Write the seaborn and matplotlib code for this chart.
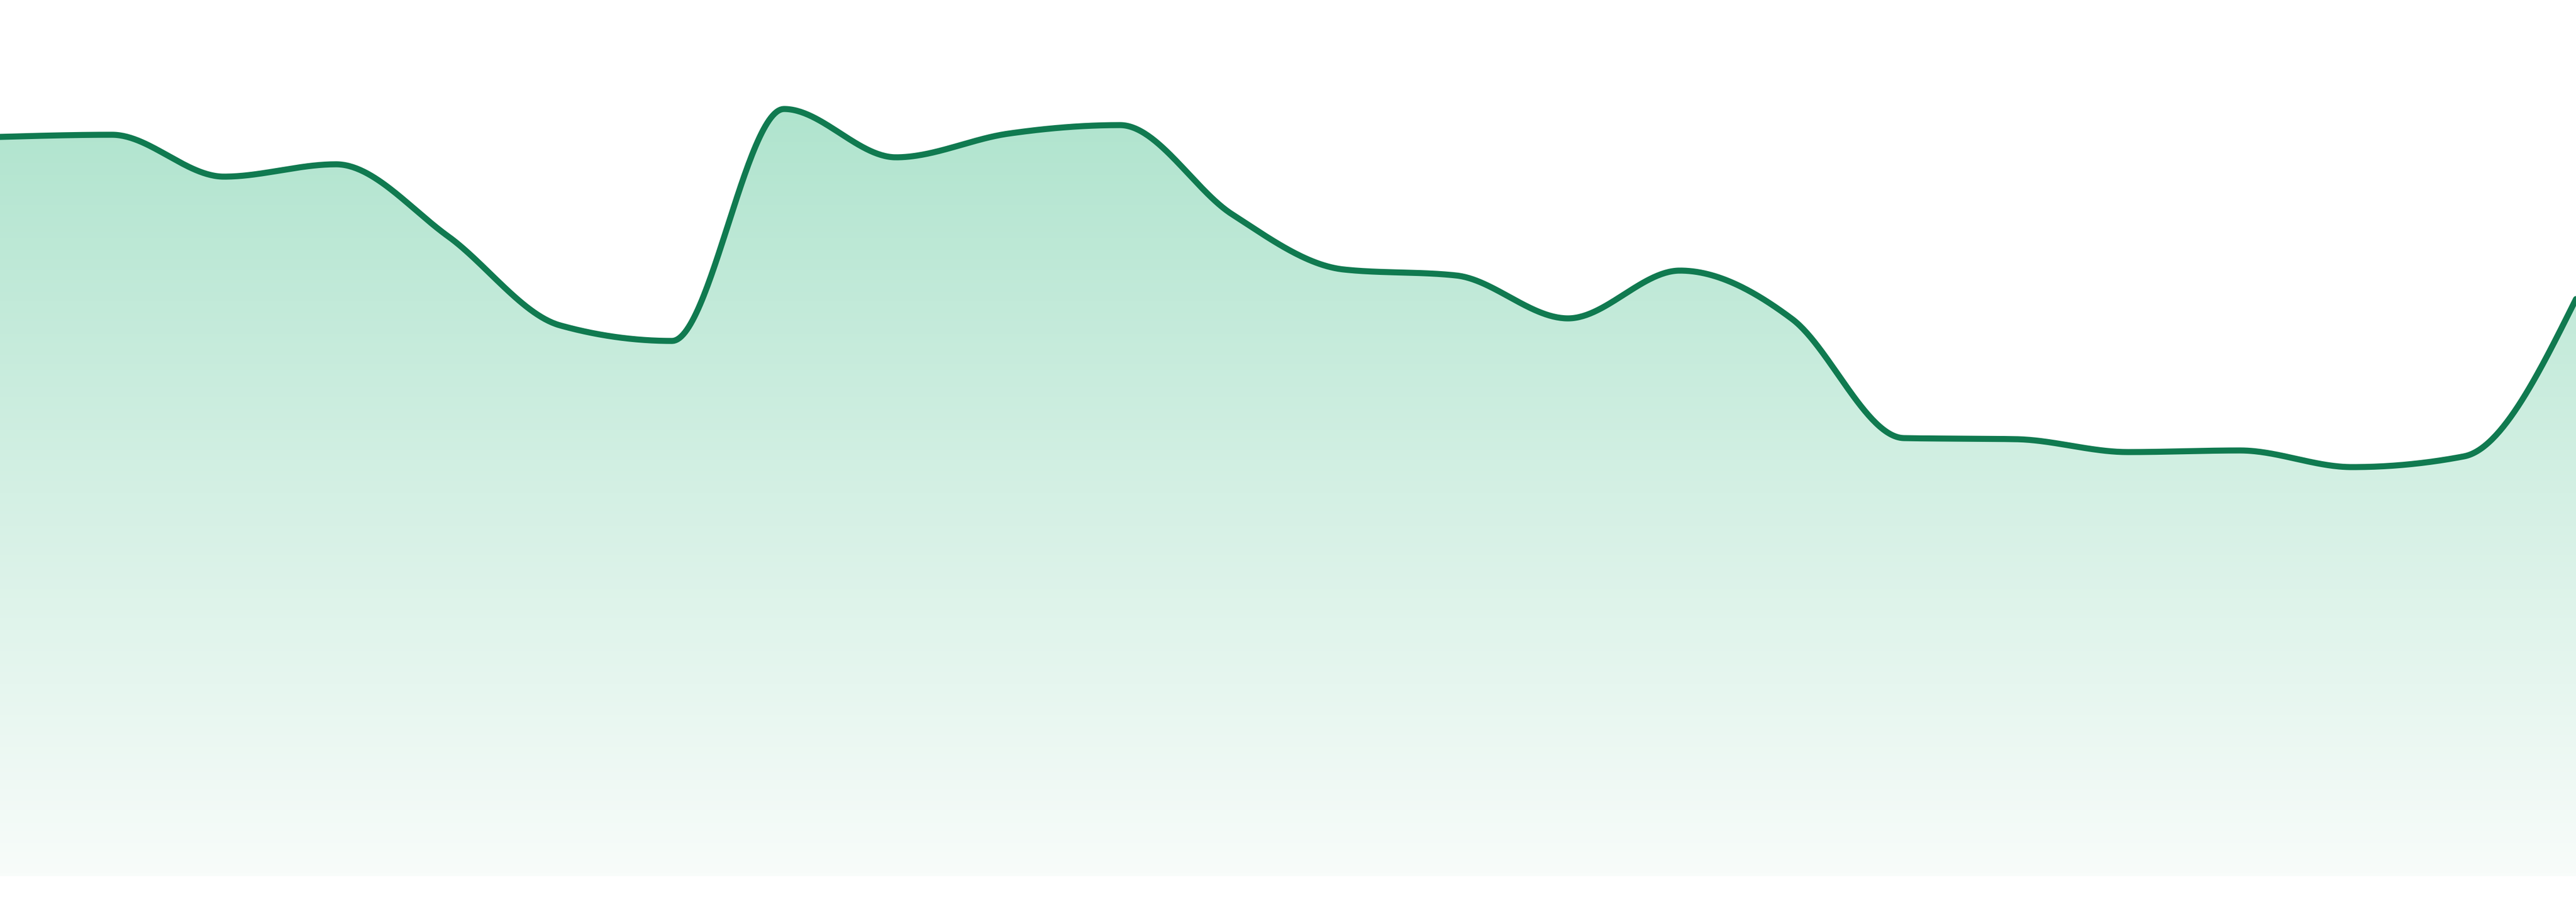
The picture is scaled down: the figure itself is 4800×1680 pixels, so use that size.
import numpy as np
import pandas as pd
import seaborn as sns
import matplotlib.pyplot as plt
from matplotlib.colors import LinearSegmentedColormap

# values (one per day)
days = list(range(24))
values = [137.7, 138.1, 130.3, 132.6, 119.2, 102.6, 99.7, 142.9, 133.9, 138.3,
          139.9, 123.3, 113.0, 111.9, 103.9, 112.8, 103.8, 81.6, 81.4, 79.0,
          79.3, 76.2, 78.2, 107.5]

line_color = '#107a50'
fill_top = '#b0e4ce'
fill_bottom = '#f8fcfa'

df = pd.DataFrame({'day': days, 'value': values})


def monotone_curve(x, y, n=60):
    # monotone cubic (Steffen) smoothing, same idea as d3 curveMonotoneX
    x = np.asarray(x, float)
    y = np.asarray(y, float)
    h = np.diff(x)
    s = np.diff(y) / h
    t = np.zeros_like(y)
    for i in range(1, len(x) - 1):
        p = (s[i - 1] * h[i] + s[i] * h[i - 1]) / (h[i - 1] + h[i])
        sg = (1 if s[i - 1] >= 0 else -1) + (1 if s[i] >= 0 else -1)
        t[i] = sg * min(abs(s[i - 1]), abs(s[i]), 0.5 * abs(p))
    t[0] = (3 * s[0] - t[1]) / 2
    t[-1] = (3 * s[-1] - t[-2]) / 2
    xs, ys = [], []
    for i in range(len(x) - 1):
        u = np.linspace(0, 1, n, endpoint=False)
        h00 = 2 * u**3 - 3 * u**2 + 1
        h10 = u**3 - 2 * u**2 + u
        h01 = -2 * u**3 + 3 * u**2
        h11 = u**3 - u**2
        xs.append(x[i] + u * h[i])
        ys.append(h00 * y[i] + h10 * h[i] * t[i] + h01 * y[i + 1] + h11 * h[i] * t[i + 1])
    xs.append([x[-1]])
    ys.append([y[-1]])
    return np.concatenate(xs), np.concatenate(ys)


xd, yd = monotone_curve(df['day'], df['value'])
smooth = pd.DataFrame({'day': xd, 'value': yd})

sns.set_style('white')
fig = plt.figure(figsize=(16, 5.6), dpi=300)
ax = fig.add_axes([0, 0, 1, 1])

# gradient area under the curve
fill = ax.fill_between(smooth['day'], smooth['value'], 0, color='none', lw=0)
cmap = LinearSegmentedColormap.from_list('area', [fill_bottom, fill_top])
grad = np.linspace(0, 1, 256).reshape(-1, 1)
img = ax.imshow(grad, cmap=cmap, aspect='auto', origin='lower',
                extent=[0, 23, 0, max(values)], zorder=1)
img.set_clip_path(fill.get_paths()[0], transform=ax.transData)

sns.lineplot(data=smooth, x='day', y='value', color=line_color,
             linewidth=2.7, ax=ax, zorder=3, sort=False)

ax.set_xlim(0, 23)
ax.set_ylim(-4.8, 163.2)
ax.axis('off')

fig.savefig('out.png', dpi=300, facecolor='white')
